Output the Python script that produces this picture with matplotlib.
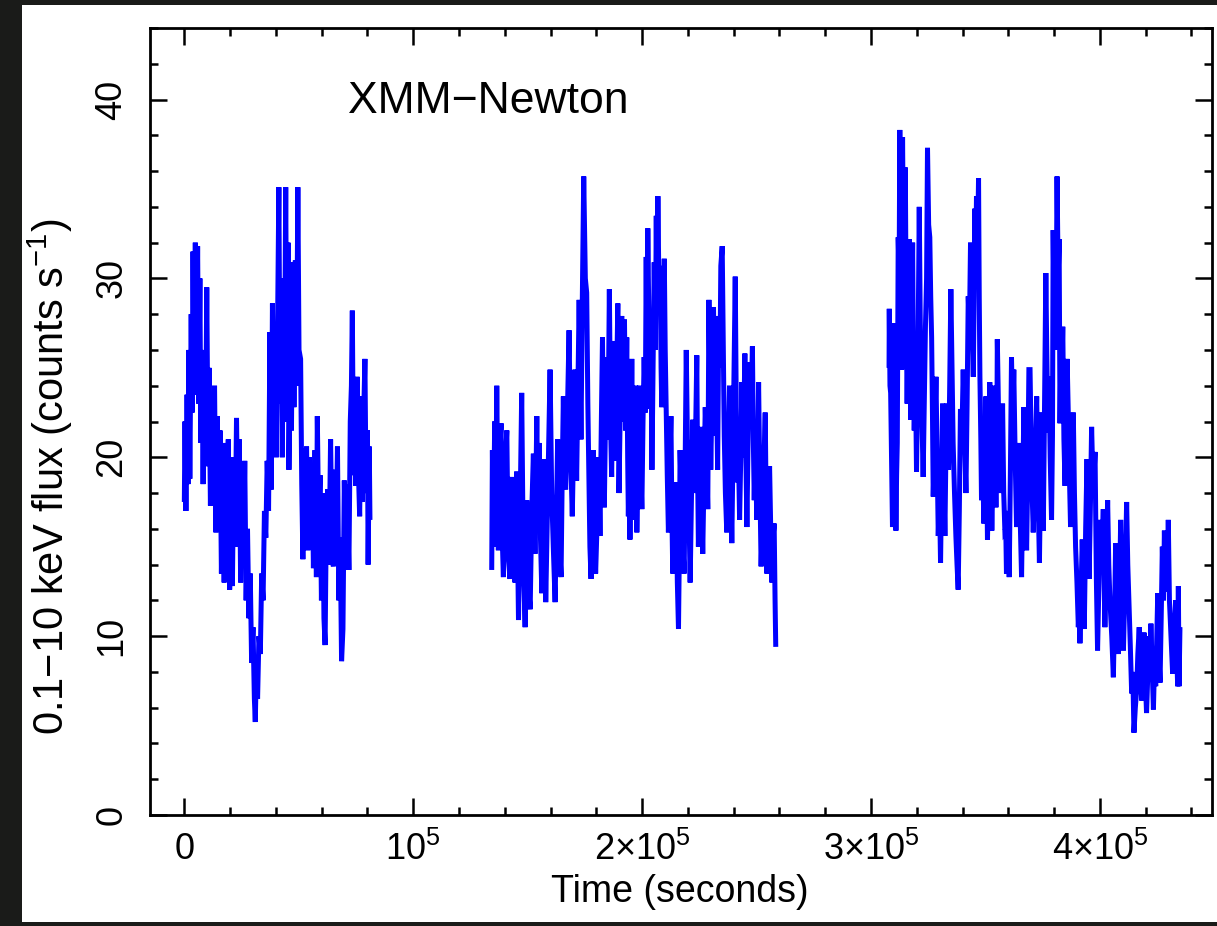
import numpy as np
import matplotlib
matplotlib.use("Agg")
import matplotlib.pyplot as plt
from matplotlib.patches import Rectangle
from matplotlib.ticker import MultipleLocator, FixedLocator, FixedFormatter

plt.rcParams['font.family'] = ['Liberation Sans', 'DejaVu Sans']
plt.rcParams['mathtext.fontset'] = 'custom'
plt.rcParams['mathtext.rm'] = 'Liberation Sans'
plt.rcParams['mathtext.it'] = 'Liberation Sans:italic'
plt.rcParams['mathtext.bf'] = 'Liberation Sans:bold'

# Light curve, three orbits: (time in ks, rate in counts/s)
orbit1 = [(0.0,17.5),(0.3,22.0),(0.7,17.0),(1.2,23.5),(1.6,18.5),(2.0,26.0),(2.4,18.8),(3.0,28.0),(3.4,22.5),(3.8,31.5),
          (4.3,23.5),(4.8,32.0),(5.3,24.5),(5.8,31.8),(6.3,23.0),(6.8,30.0),(7.2,20.8),(7.7,26.0),(8.2,18.5),(8.7,25.5),
          (9.2,19.5),(9.8,29.5),(10.3,21.0),(10.8,25.0),(11.4,17.3),(12.0,23.5),(12.6,18.0),(13.2,24.0),(13.8,15.8),(14.4,22.3),
          (15.0,16.0),(15.6,21.5),(16.2,13.5),(16.8,19.5),(17.4,13.0),(18.0,20.8),(18.6,14.5),(19.2,21.0),(19.8,12.6),(20.4,17.5),
          (21.0,12.8),(21.6,20.0),(22.2,15.0),(22.8,22.2),(23.4,16.0),(24.0,21.0),(24.6,13.0),(25.2,19.5),(25.8,14.5),(26.4,19.8),
          (27.0,12.0),(27.6,16.0),(28.2,11.0),(28.8,13.5),(29.4,8.5),(30.0,10.5),(30.6,6.5),(31.0,5.2),(31.5,8.5),(32.0,6.5),
          (32.6,10.0),(33.2,9.0),(33.8,13.5),(34.4,12.0),(35.0,17.0),(35.6,15.5),(36.2,19.8),(36.8,17.0),(37.4,27.0),(38.0,18.2),
          (38.5,28.6),(39.0,20.5),(39.6,25.5),(40.2,20.0),(40.8,28.0),(41.3,35.1),(41.8,23.0),(42.3,30.0),(42.8,20.0),(43.3,29.5),
          (43.8,25.0),(44.3,35.1),(44.8,22.0),(45.3,32.0),(45.7,19.3),(46.3,26.0),(46.8,21.5),(47.4,30.9),(47.9,22.8),(48.5,31.0),
          (49.0,24.0),(49.6,35.1),(50.1,26.0),(50.8,25.5),(51.3,18.5),(51.8,14.3),(52.3,20.5),(52.8,15.5),(53.4,20.6),(54.0,14.8),
          (54.6,20.0),(55.2,15.0),(55.8,19.5),(56.4,13.8),(57.1,20.4),(57.7,13.3),(58.1,22.3),(58.7,16.0),(59.3,19.0),(59.9,12.0),
          (60.5,18.0),(61.0,11.0),(61.5,9.5),(62.0,16.0),(62.6,18.2),(63.2,14.0),(63.9,21.0),(64.5,15.0),(65.1,13.9),(65.7,19.3),
          (66.3,15.0),(66.9,20.6),(67.5,12.0),(68.1,15.5),(68.7,8.6),(69.3,10.4),(69.9,18.7),(70.5,14.0),(71.1,18.5),(71.9,13.7),
          (72.5,22.0),(73.0,24.0),(73.4,28.2),(73.9,19.0),(74.4,22.5),(74.9,18.4),(75.5,24.5),(76.1,19.0),(76.6,16.7),(77.2,23.4),
          (77.8,17.5),(78.3,22.0),(78.9,25.5),(79.4,18.0),(80.0,21.5),(80.3,14.0),(80.8,20.6),(81.1,16.5)]

orbit2 = [(134.3,13.7),(134.6,20.4),(135.0,15.0),(135.6,22.0),(136.0,16.5),(136.5,24.0),(137.2,14.8),(137.8,20.5),(138.4,21.9),(138.9,15.5),
          (139.4,13.3),(140.0,19.0),(140.9,21.5),(141.5,14.5),(142.3,13.2),(142.6,17.5),(143.0,18.9),(143.7,14.0),(144.5,13.0),(145.2,19.2),
          (146.0,10.9),(146.7,17.0),(147.4,23.6),(148.1,14.3),(148.9,10.5),(149.6,17.6),(150.3,13.0),(151.1,11.5),(151.8,17.0),(152.5,20.2),
          (153.2,14.6),(154.0,22.3),(154.5,16.5),(155.0,20.8),(155.6,15.5),(156.2,12.4),(156.7,17.0),(157.2,19.9),(157.9,11.9),(158.8,18.0),
          (159.8,24.9),(160.5,18.0),(161.2,15.0),(162.0,11.9),(162.5,16.0),(163.1,21.0),(163.8,15.5),(164.6,13.3),(165.1,19.0),(165.6,23.4),
          (166.1,19.0),(166.6,18.2),(167.3,22.0),(168.1,27.1),(168.8,20.0),(169.5,16.7),(170.1,21.0),(170.7,24.9),(171.4,18.7),(172.0,24.0),
          (172.5,28.8),(173.3,21.0),(173.9,29.0),(174.5,35.7),(175.2,30.0),(175.8,29.2),(176.3,23.0),(176.8,18.6),(177.2,15.0),(177.7,13.2),
          (178.2,17.5),(178.7,20.4),(179.2,16.0),(179.7,13.5),(180.5,17.0),(181.0,20.0),(181.6,15.6),(182.2,22.0),(182.7,26.7),(183.1,20.5),
          (183.5,17.2),(184.0,22.0),(184.5,25.6),(185.1,21.0),(185.7,29.4),(186.2,22.0),(186.7,18.9),(187.1,23.5),(187.5,26.5),(188.0,22.0),
          (188.5,19.8),(188.9,24.5),(189.4,28.6),(189.9,18.0),(190.5,23.0),(191.1,27.9),(191.7,22.0),(192.3,27.7),(192.8,21.5),(193.3,26.7),
          (193.7,20.0),(194.0,16.7),(194.4,20.0),(194.7,15.4),(195.1,21.0),(195.5,25.5),(196.2,16.5),(196.7,20.0),(197.2,24.0),(197.7,15.8),
          (198.3,20.5),(198.9,24.0),(199.4,19.5),(199.9,17.1),(200.4,22.0),(200.9,25.6),(201.4,22.5),(201.8,31.2),(202.1,25.0),(202.5,32.8),
          (203.0,27.0),(203.5,22.7),(203.9,26.0),(204.3,19.3),(204.8,25.0),(205.3,30.9),(205.8,26.0),(206.2,33.5),(206.5,28.0),(206.9,34.6),
          (207.4,29.0),(207.9,30.7),(208.3,25.0),(208.6,22.8),(209.2,27.0),(209.7,31.1),(210.1,26.0),(210.5,22.8),(211.0,19.0),(211.5,15.8),
          (212.0,19.0),(212.6,22.3),(213.0,17.0),(213.4,13.5),(214.2,16.5),(214.9,18.6),(215.4,13.0),(215.9,10.4),(216.3,15.0),(216.6,20.4),
          (217.5,16.0),(218.4,13.5),(218.8,19.5),(219.3,26.0),(219.8,21.0),(220.3,20.4),(220.6,16.0),(221.0,13.0),(221.6,18.0),(222.2,22.1),
          (222.9,18.0),(223.4,21.5),(223.9,25.7),(224.2,20.0),(224.6,15.0),(225.1,18.5),(225.7,21.7),(226.1,17.5),(226.5,14.6),(227.0,18.5),
          (227.6,22.8),(228.2,20.0),(228.7,17.1),(229.2,28.8),(229.6,24.0),(230.0,19.3),(230.6,24.0),(231.2,28.4),(231.9,21.2),(232.5,24.0),
          (233.0,19.3),(233.5,27.9),(234.0,25.0),(234.4,30.7),(235.0,31.8),(235.5,26.0),(235.9,21.2),(236.4,18.0),(237.0,15.8),(237.6,20.0),
          (238.2,24.0),(238.7,19.0),(239.2,15.2),(239.9,22.0),(240.7,30.1),(241.0,25.0),(241.4,18.6),(242.0,21.0),(242.6,16.5),(243.1,20.0),
          (243.6,24.2),(244.2,20.0),(244.9,25.8),(245.3,20.5),(245.8,16.1),(246.3,21.0),(246.8,25.3),(247.5,22.0),(248.2,26.2),(248.6,21.0),
          (249.0,17.6),(249.5,21.0),(250.1,16.5),(250.5,20.0),(250.9,24.2),(251.4,19.0),(252.0,13.9),(252.9,18.0),(253.8,22.5),(254.2,17.0),
          (254.5,13.5),(255.1,16.5),(255.7,19.5),(256.2,16.0),(256.7,13.0),(257.2,15.5),(257.7,16.3),(258.1,12.0),(258.4,9.4)]

orbit3 = [(307.9,25.0),(308.0,28.3),(308.3,24.0),(308.6,23.6),(309.0,20.0),(309.4,16.1),(309.8,22.0),(310.2,27.5),(310.6,20.0),(310.9,15.9),
          (311.2,19.0),(311.5,20.8),(311.9,32.3),(312.3,30.0),(312.6,38.3),(313.0,31.0),(313.4,24.9),(313.8,37.9),(314.1,33.0),(314.4,29.2),
          (315.0,36.2),(315.4,28.0),(315.8,23.0),(316.2,27.0),(316.7,32.2),(317.0,27.0),(317.4,22.1),(317.8,27.0),(318.2,32.0),(318.5,26.0),
          (318.9,21.5),(319.4,25.0),(319.9,19.2),(320.5,25.0),(321.1,34.0),(321.5,28.0),(321.8,24.5),(322.3,22.0),(322.8,18.9),(323.3,23.0),
          (323.8,27.3),(324.3,30.0),(324.7,37.3),(325.2,33.0),(325.7,32.3),(326.1,29.0),(326.5,26.7),(326.9,22.0),(327.2,17.8),(327.8,21.0),
          (328.4,24.5),(328.9,20.0),(329.4,15.6),(329.9,18.0),(330.4,14.1),(330.8,18.0),(331.3,23.0),(331.8,19.0),(332.3,15.6),(332.6,19.0),
          (333.0,23.0),(333.5,21.0),(333.9,19.3),(334.4,24.0),(334.9,29.4),(335.4,25.0),(335.9,20.8),(336.5,18.0),(337.1,15.6),(337.6,14.0),
          (338.1,12.6),(338.6,17.0),(339.1,22.7),(339.7,21.0),(340.3,24.9),(340.9,21.0),(341.5,18.0),(342.0,23.0),(342.5,29.0),(343.0,27.0),
          (343.5,32.0),(344.1,28.0),(344.7,24.5),(345.0,28.0),(345.4,33.9),(345.7,30.0),(346.1,34.6),(346.6,32.0),(347.0,35.6),(347.3,29.0),
          (347.6,24.5),(348.0,21.0),(348.3,17.6),(348.8,20.0),(349.3,16.3),(349.8,20.0),(350.2,23.4),(350.6,19.0),(350.9,15.4),(351.4,19.0),
          (351.9,24.2),(352.4,19.0),(352.8,15.9),(353.3,19.0),(353.7,24.0),(354.2,20.0),(354.6,17.2),(355.0,21.0),(355.2,26.6),(355.8,22.0),
          (356.3,20.8),(356.9,18.0),(357.5,23.0),(358.0,18.0),(358.5,15.9),(358.9,16.0),(359.2,13.5),(359.8,17.0),(360.4,13.3),(360.9,19.0),
          (361.4,25.6),(361.9,22.0),(362.4,24.9),(363.0,20.0),(363.6,16.1),(364.2,18.0),(364.8,20.8),(365.3,16.0),(365.8,13.3),(366.3,18.0),
          (366.8,22.8),(367.4,18.0),(368.0,14.8),(368.5,19.0),(369.0,24.9),(369.5,24.9),(370.2,19.0),(370.9,15.8),(371.6,19.0),(372.4,23.4),
          (373.0,18.0),(373.6,14.1),(374.1,19.0),(374.6,22.5),(375.0,18.0),(375.3,15.9),(375.9,24.0),(376.4,30.3),(376.8,26.0),(377.3,21.4),
          (377.8,24.5),(378.3,20.0),(378.9,16.5),(379.3,21.2),(379.6,32.7),(380.0,28.0),(380.4,30.0),(380.8,26.0),(381.3,35.7),(381.8,30.0),
          (382.2,32.2),(382.6,21.9),(383.0,26.0),(383.3,24.2),(383.8,27.3),(384.3,21.0),(384.8,18.4),(385.2,23.0),(385.7,25.5),(386.2,22.5),
          (386.7,19.0),(387.2,16.1),(387.8,20.0),(388.4,22.5),(388.9,18.0),(389.4,15.0),(390.0,13.0),(390.6,10.5),(391.0,12.0),(391.3,9.6),
          (391.8,12.5),(392.3,15.4),(392.8,13.0),(393.2,10.4),(393.8,16.0),(394.4,19.9),(394.9,16.0),(395.3,13.2),(395.9,17.5),(396.4,21.7),
          (397.1,18.0),(397.9,20.3),(398.5,13.0),(399.0,9.2),(399.6,13.0),(400.1,16.5),(400.8,14.0),(401.5,17.1),(401.9,13.0),(402.2,10.5),
          (402.8,14.0),(403.4,17.6),(403.9,14.0),(404.4,12.0),(405.2,10.0),(405.9,7.7),(406.4,11.0),(406.9,15.2),(407.5,12.0),(408.1,9.0),
          (408.6,12.5),(409.1,16.5),(409.7,12.5),(410.3,9.2),(411.0,13.0),(411.7,17.5),(412.2,14.0),(412.7,12.0),(413.3,9.5),(413.9,6.8),
          (414.4,8.0),(414.9,4.6),(415.5,6.0),(416.1,7.0),(416.6,9.0),(417.2,10.5),(417.7,8.0),(418.3,6.4),(418.8,8.5),(419.3,10.2),
          (419.9,7.5),(420.4,5.7),(421.0,8.0),(421.5,10.0),(421.9,8.0),(422.3,10.7),(422.9,8.0),(423.4,5.9),(423.9,8.5),(424.4,7.2),
          (424.9,10.0),(425.3,12.4),(425.8,9.0),(426.3,7.4),(426.8,11.0),(427.3,15.0),(427.8,12.0),(428.2,15.9),(428.7,12.5),(429.2,15.8),
          (429.5,13.0),(429.9,16.5),(430.4,12.0),(430.9,10.5),(431.4,9.0),(431.8,7.9),(432.4,10.0),(433.1,12.0),(433.6,9.0),(434.0,7.2),
          (434.3,12.8),(434.6,7.2),(435.0,10.5)]

x_major = [0, 1e5, 2e5, 3e5, 4e5]
x_labels = ['0', r'$\mathregular{10^5}$', r'$\mathregular{2{\times}10^5}$',
            r'$\mathregular{3{\times}10^5}$', r'$\mathregular{4{\times}10^5}$']
y_major = [0, 10, 20, 30, 40]

fig = plt.figure(figsize=(12.17, 9.26), dpi=100)
fig.patch.set_facecolor('#1a1b19')
fig.add_artist(Rectangle((22 / 1217, 1 - 922 / 926), 1 - 22 / 1217, 917 / 926,
                         transform=fig.transFigure, facecolor='white', edgecolor='none', zorder=0))

ax = fig.add_axes([150 / 1217, 1 - 815 / 926, 1062 / 1217, 787 / 926])
ax.set_facecolor('white')

for orbit in (orbit1, orbit2, orbit3):
    t, rate = np.array(orbit).T
    ax.plot(t * 1e3, rate, color='#0000ff', lw=3.6, solid_joinstyle='miter', solid_capstyle='butt')

ax.set_xlim(-15000, 449000)
ax.set_ylim(0, 44)

ax.xaxis.set_major_locator(FixedLocator(x_major))
ax.xaxis.set_major_formatter(FixedFormatter(x_labels))
ax.xaxis.set_minor_locator(MultipleLocator(2e4))
ax.yaxis.set_major_locator(FixedLocator(y_major))
ax.yaxis.set_minor_locator(MultipleLocator(2))

for s in ax.spines.values():
    s.set_linewidth(2.0)
ax.tick_params(which='both', direction='in', top=True, right=True, width=1.8, colors='black')
ax.tick_params(which='major', length=12)
ax.tick_params(which='minor', length=6)
ax.tick_params(axis='x', which='major', labelsize=26, pad=12)
ax.tick_params(axis='y', which='major', labelsize=26, pad=15, labelrotation=90)
for lbl in ax.get_yticklabels():
    lbl.set_verticalalignment('center')

ax.set_xlabel('Time (seconds)', fontsize=27, va='center')
ax.xaxis.set_label_coords(0.499, -0.098)
ax.set_ylabel(r'0.1−10 keV flux (counts s$\mathregular{^{-1}}$)', fontsize=30, va='center')
ax.yaxis.set_label_coords(-0.094, 0.43)

ax.text(71600, 39.9, 'XMM−Newton', fontsize=32, ha='left', va='center')

fig.savefig('out.png', dpi=100, facecolor=fig.get_facecolor())
